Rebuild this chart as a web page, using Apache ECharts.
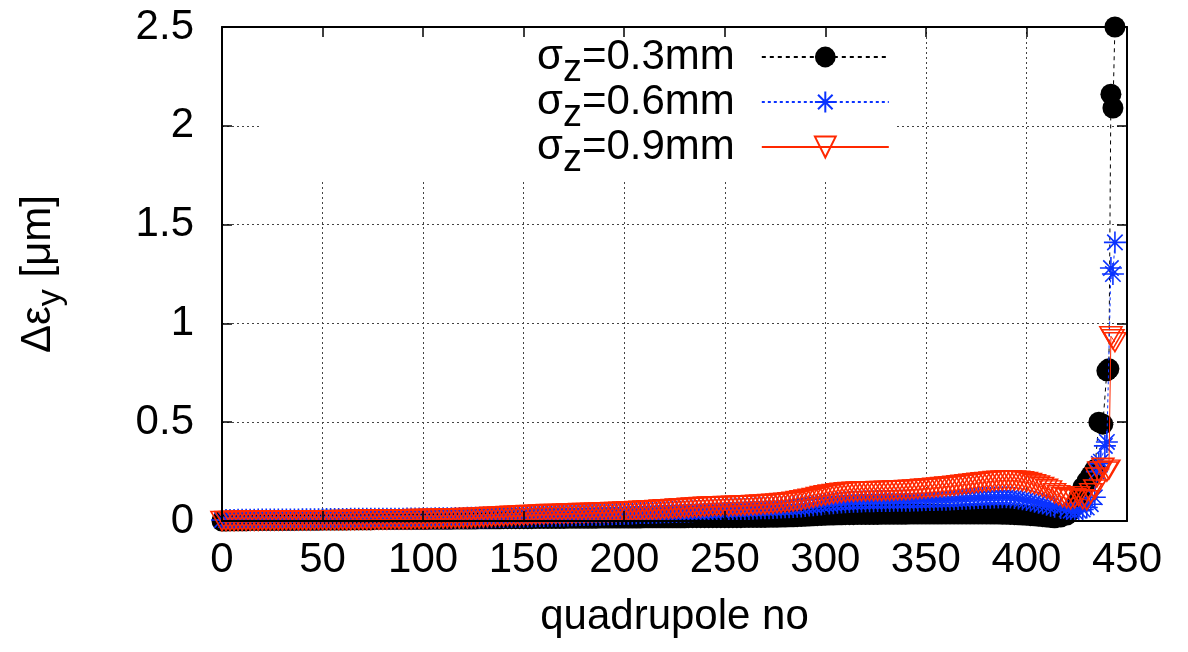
<!DOCTYPE html>
<html>
<head>
<meta charset="utf-8">
<script src="https://cdn.jsdelivr.net/npm/echarts@6/dist/echarts.min.js"></script>
<style>
html,body{margin:0;padding:0;background:#fff;}
#chart{width:1188px;height:652px;}
</style>
</head>
<body>
<div id="chart"></div>
<script>
// ---- data ----
const seriesNames = ['σz=0.3mm', 'σz=0.6mm', 'σz=0.9mm'];
const xTicks = [0, 50, 100, 150, 200, 250, 300, 350, 400, 450];
const yTicks = [0, 0.5, 1, 1.5, 2, 2.5];

const quadNo = [
  0,2,4,6,8,10,12,14,16,18, 20,22,24,26,28,30,32,34,36,38,
  40,42,44,46,48,50,52,54,56,58, 60,62,64,66,68,70,72,74,76,78,
  80,82,84,86,88,90,92,94,96,98, 100,102,104,106,108,110,112,114,116,118,
  120,122,124,126,128,130,132,134,136,138, 140,142,144,146,148,150,152,154,156,158,
  160,162,164,166,168,170,172,174,176,178, 180,182,184,186,188,190,192,194,196,198,
  200,202,204,206,208,210,212,214,216,218, 220,222,224,226,228,230,232,234,236,238,
  240,242,244,246,248,250,252,254,256,258, 260,262,264,266,268,270,272,274,276,278,
  280,282,284,286,288,290,292,294,296,298, 300,302,304,306,308,310,312,314,316,318,
  320,322,324,326,328,330,332,334,336,338, 340,342,344,346,348,350,352,354,356,358,
  360,362,364,366,368,370,372,374,376,378, 380,382,384,386,388,390,392,394,396,398,
  400,402,404,406,408,410,412];

const sig03 = [
  0.000,0.000,0.001,0.001,0.001,0.001,0.001,0.002,0.002,0.002, 0.002,0.002,0.002,0.003,0.003,0.003,0.003,0.003,0.003,0.004,
  0.004,0.004,0.004,0.004,0.004,0.005,0.005,0.005,0.005,0.005, 0.005,0.005,0.006,0.006,0.006,0.006,0.006,0.006,0.007,0.007,
  0.007,0.007,0.007,0.007,0.007,0.008,0.008,0.008,0.008,0.008, 0.008,0.008,0.009,0.009,0.009,0.009,0.009,0.009,0.010,0.010,
  0.010,0.010,0.010,0.010,0.011,0.011,0.011,0.011,0.011,0.011, 0.012,0.012,0.012,0.012,0.012,0.012,0.012,0.012,0.013,0.013,
  0.013,0.013,0.013,0.013,0.013,0.013,0.014,0.014,0.014,0.014, 0.014,0.014,0.014,0.014,0.015,0.015,0.015,0.015,0.015,0.015,
  0.015,0.015,0.015,0.015,0.015,0.016,0.016,0.016,0.016,0.016, 0.016,0.016,0.016,0.016,0.016,0.016,0.017,0.017,0.017,0.017,
  0.017,0.017,0.017,0.017,0.017,0.017,0.017,0.017,0.017,0.017, 0.018,0.018,0.018,0.018,0.018,0.018,0.019,0.019,0.019,0.020,
  0.020,0.021,0.021,0.022,0.023,0.024,0.025,0.026,0.027,0.028, 0.029,0.030,0.030,0.031,0.031,0.032,0.032,0.032,0.033,0.033,
  0.033,0.033,0.033,0.033,0.034,0.034,0.034,0.034,0.034,0.034, 0.034,0.035,0.035,0.035,0.035,0.035,0.035,0.035,0.035,0.035,
  0.036,0.036,0.036,0.036,0.036,0.036,0.036,0.036,0.036,0.036, 0.036,0.035,0.035,0.035,0.034,0.034,0.033,0.032,0.031,0.030,
  0.029,0.027,0.026,0.024,0.022,0.020,0.018];

const sig06 = [
  0.005,0.005,0.005,0.005,0.006,0.006,0.006,0.006,0.006,0.007, 0.007,0.007,0.007,0.007,0.007,0.008,0.008,0.008,0.008,0.008,
  0.009,0.009,0.009,0.009,0.009,0.009,0.010,0.010,0.010,0.010, 0.010,0.010,0.011,0.011,0.011,0.011,0.011,0.011,0.011,0.012,
  0.012,0.012,0.012,0.012,0.012,0.012,0.013,0.013,0.013,0.013, 0.013,0.013,0.013,0.014,0.014,0.014,0.014,0.014,0.015,0.015,
  0.015,0.016,0.016,0.017,0.017,0.018,0.018,0.019,0.019,0.020, 0.020,0.021,0.021,0.022,0.022,0.023,0.023,0.024,0.024,0.025,
  0.025,0.026,0.026,0.027,0.027,0.028,0.028,0.029,0.029,0.030, 0.030,0.031,0.031,0.032,0.032,0.033,0.034,0.034,0.035,0.036,
  0.037,0.037,0.038,0.039,0.040,0.040,0.041,0.042,0.042,0.043, 0.044,0.044,0.045,0.046,0.047,0.047,0.048,0.049,0.050,0.050,
  0.051,0.052,0.053,0.054,0.055,0.056,0.057,0.058,0.059,0.060, 0.061,0.061,0.062,0.063,0.064,0.064,0.065,0.066,0.067,0.068,
  0.069,0.070,0.071,0.072,0.074,0.076,0.078,0.080,0.082,0.084, 0.086,0.088,0.090,0.092,0.094,0.095,0.096,0.097,0.098,0.099,
  0.100,0.100,0.100,0.101,0.101,0.101,0.101,0.102,0.102,0.102, 0.103,0.103,0.104,0.104,0.105,0.105,0.106,0.106,0.107,0.107,
  0.108,0.109,0.110,0.111,0.112,0.113,0.114,0.115,0.116,0.117, 0.118,0.118,0.119,0.119,0.120,0.120,0.119,0.117,0.114,0.110,
  0.106,0.102,0.097,0.092,0.088,0.082,0.077];

const sig09 = [
  0.000,0.000,0.000,0.000,0.001,0.001,0.001,0.001,0.001,0.001, 0.002,0.002,0.002,0.002,0.002,0.002,0.003,0.003,0.003,0.003,
  0.003,0.003,0.003,0.004,0.004,0.004,0.004,0.004,0.004,0.004, 0.005,0.005,0.005,0.005,0.006,0.006,0.006,0.006,0.007,0.007,
  0.007,0.007,0.008,0.008,0.008,0.009,0.009,0.009,0.010,0.010, 0.010,0.010,0.011,0.011,0.012,0.012,0.013,0.013,0.014,0.014,
  0.015,0.015,0.016,0.017,0.018,0.019,0.020,0.021,0.022,0.023, 0.024,0.025,0.026,0.027,0.028,0.029,0.030,0.031,0.032,0.033,
  0.034,0.035,0.035,0.036,0.036,0.037,0.038,0.038,0.039,0.040, 0.040,0.041,0.042,0.042,0.043,0.044,0.044,0.045,0.046,0.047,
  0.048,0.049,0.050,0.051,0.052,0.053,0.054,0.055,0.056,0.058, 0.059,0.060,0.061,0.063,0.064,0.065,0.067,0.068,0.069,0.071,
  0.072,0.073,0.074,0.075,0.075,0.076,0.076,0.077,0.077,0.078, 0.079,0.080,0.081,0.082,0.083,0.084,0.086,0.087,0.089,0.091,
  0.093,0.095,0.098,0.101,0.105,0.109,0.113,0.117,0.122,0.126, 0.130,0.134,0.137,0.140,0.143,0.145,0.147,0.148,0.149,0.150,
  0.150,0.151,0.151,0.152,0.152,0.153,0.153,0.154,0.155,0.156, 0.157,0.158,0.160,0.161,0.163,0.164,0.166,0.168,0.170,0.172,
  0.174,0.176,0.178,0.181,0.183,0.186,0.188,0.191,0.193,0.196, 0.198,0.200,0.202,0.204,0.205,0.206,0.206,0.205,0.204,0.201,
  0.197,0.192,0.186,0.180,0.172,0.163,0.155];

// last quadrupoles, read point by point
const tailQuad03 = [414,417,420,422,424,426,428,430,432,434,436,438,440,441,442,443,444];
const tail03     = [0.016,0.020,0.030,0.050,0.080,0.120,0.170,0.200,0.230,0.260,0.500,0.490,0.760,0.770,2.160,2.090,2.500];
const tailQuad06 = [414,417,420,422,424,426,428,430,432,434,435,436,437,439,440,442,443,444];
const tail06     = [0.072,0.066,0.058,0.052,0.050,0.052,0.058,0.068,0.085,0.120,0.250,0.290,0.300,0.380,0.400,1.280,1.250,1.410];
const tailQuad09 = [414,416,418,420,422,424,426,428,430,432,434,435,436,438,440,441,442,443,444];
const tail09     = [0.140,0.130,0.120,0.115,0.110,0.115,0.125,0.110,0.105,0.140,0.160,0.220,0.250,0.270,0.250,0.260,0.935,0.920,0.905];

// ---- build ----
function pairs(xs, ys) { return xs.map((q, i) => [q, ys[i]]); }
const data03 = pairs(quadNo, sig03).concat(pairs(tailQuad03, tail03));
const data06 = pairs(quadNo, sig06).concat(pairs(tailQuad06, tail06));
const data09 = pairs(quadNo, sig09).concat(pairs(tailQuad09, tail09));

const FONT = 'Liberation Sans';
const BLACK = '#000000', BLUE = '#0a32ff', RED = '#ff2800';
const STAR = 'path://M5,0L5,10M0,5L10,5M1.5,1.5L8.5,8.5M8.5,1.5L1.5,8.5';
const TRI = 'path://M0,0L10,0L5,8.66Z';

const xMin = xTicks[0], xMax = xTicks[xTicks.length - 1], xInt = xTicks[1] - xTicks[0];
const yMin = yTicks[0], yMax = yTicks[yTicks.length - 1], yInt = yTicks[1] - yTicks[0];

function frameAxis(pos, isX) {
  return {
    type: 'value', position: pos, min: isX ? xMin : yMin, max: isX ? xMax : yMax,
    interval: isX ? xInt : yInt, z: 10,
    axisLine: { show: true, onZero: false, lineStyle: { color: '#000', width: 2 } },
    axisTick: { show: true, inside: true, length: 10, lineStyle: { color: '#000', width: 1.5 } },
    axisLabel: { show: false }, splitLine: { show: false }
  };
}

const chart = echarts.init(document.getElementById('chart'), null, { renderer: 'canvas' });
chart.setOption({
  animation: false,
  backgroundColor: '#fff',
  grid: { left: 213, right: 61, top: 27, bottom: 131, containLabel: false },
  legend: {
    orient: 'vertical', align: 'right', left: 262, top: 24,
    padding: [0, 5, 0, 275],
    backgroundColor: '#fff',
    itemWidth: 127, itemHeight: 26, itemGap: -21,
    data: seriesNames,
    formatter: function (name) { return '{a|σ}{b|z}{c|' + name.slice(2) + '}'; },
    textStyle: {
      color: '#000', fontFamily: FONT,
      rich: {
        a: { fontSize: 42, lineHeight: 44, fontFamily: FONT, color: '#000' },
        b: { fontSize: 38, lineHeight: 20, padding: [28, 0, 0, 0], fontFamily: FONT, color: '#000' },
        c: { fontSize: 42, lineHeight: 44, fontFamily: FONT, color: '#000', padding: [0, 22, 0, 0] }
      }
    }
  },
  xAxis: [
    {
      type: 'value', position: 'bottom', min: xMin, max: xMax, interval: xInt, z: 0,
      axisLine: { show: false }, axisTick: { show: false },
      axisLabel: { show: true, fontSize: 42, fontFamily: FONT, color: '#000', margin: 18 },
      splitLine: { show: true, lineStyle: { color: '#444', width: 1, type: [2, 3] } },
      name: 'quadrupole no', nameLocation: 'middle', nameGap: 75,
      nameTextStyle: { fontSize: 42, fontFamily: FONT, color: '#000' }
    },
    frameAxis('bottom', true),
    frameAxis('top', true)
  ],
  yAxis: [
    {
      type: 'value', position: 'left', min: yMin, max: yMax, interval: yInt, z: 0,
      axisLine: { show: false }, axisTick: { show: false },
      axisLabel: { show: true, fontSize: 42, fontFamily: FONT, color: '#000', margin: 28 },
      splitLine: { show: true, lineStyle: { color: '#444', width: 1, type: [2, 3] } },
      name: '{a|Δε}{b|y}{a| [μm]}', nameLocation: 'middle', nameGap: 162, nameRotate: 90,
      nameTextStyle: {
        fontFamily: FONT, color: '#000',
        rich: {
          a: { fontSize: 42, lineHeight: 44, fontFamily: FONT, color: '#000' },
          b: { fontSize: 34, lineHeight: 18, padding: [26, 0, 0, 0], fontFamily: FONT, color: '#000' }
        }
      }
    },
    frameAxis('left', false),
    frameAxis('right', false)
  ],
  series: [
    {
      name: seriesNames[0], type: 'line', xAxisIndex: 0, yAxisIndex: 0, data: data03,
      symbol: 'circle', symbolSize: 21, z: 2,
      itemStyle: { color: BLACK },
      lineStyle: { color: BLACK, width: 1, type: [4, 4] }
    },
    {
      name: seriesNames[1], type: 'line', xAxisIndex: 0, yAxisIndex: 0, data: data06,
      symbol: STAR, symbolSize: 22, z: 3,
      itemStyle: { color: BLUE, borderColor: BLUE, borderWidth: 1.6 },
      lineStyle: { color: BLUE, width: 1, type: [3, 3] }
    },
    {
      name: seriesNames[2], type: 'line', xAxisIndex: 0, yAxisIndex: 0, data: data09,
      symbol: TRI, symbolSize: [22, 19], z: 4,
      itemStyle: { color: 'rgba(0,0,0,0)', borderColor: RED, borderWidth: 1.6 },
      lineStyle: { color: RED, width: 1 }
    }
  ]
});
</script>
</body>
</html>
